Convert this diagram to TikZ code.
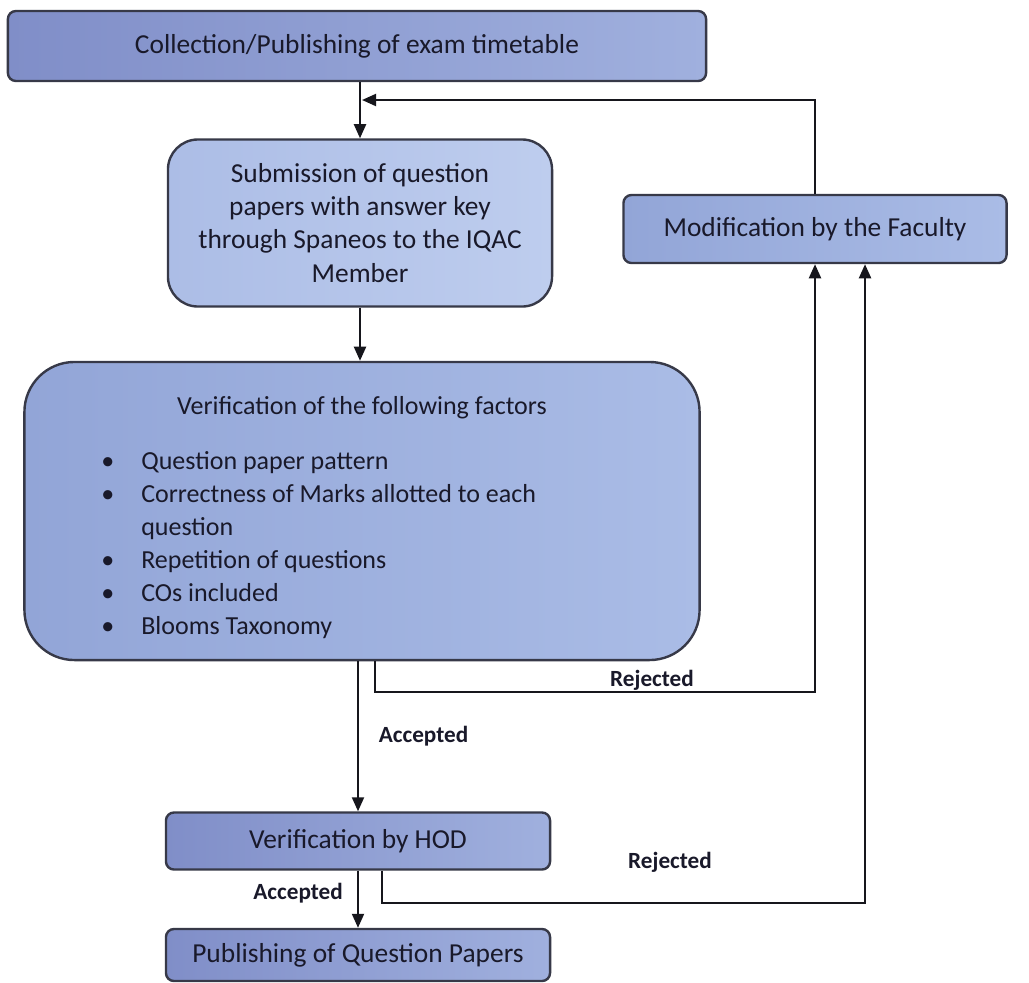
\documentclass[tikz,border=0pt]{standalone}
\usepackage{fontspec}
\setmainfont{Carlito}
\usetikzlibrary{arrows.meta}
\definecolor{boxL}{RGB}{128,142,200}
\definecolor{boxR}{RGB}{160,176,222}
\definecolor{subL}{RGB}{172,189,230}
\definecolor{subR}{RGB}{190,205,238}
\definecolor{verL}{RGB}{146,165,215}
\definecolor{verR}{RGB}{170,188,230}
\definecolor{boxline}{RGB}{55,57,72}
\definecolor{txt}{RGB}{25,25,42}
\definecolor{lineclr}{RGB}{22,22,28}
\begin{document}
\begin{tikzpicture}[x=0.025cm,y=-0.025cm,
  box/.style={draw=boxline, line width=1.7pt, left color=boxL, right color=boxR, rounded corners=0.2cm,
    text=txt, font=\fontsize{19.5}{23.5}\selectfont, align=center, inner sep=0pt},
  arr/.style={draw=lineclr, line width=1.6pt, -{Triangle[length=10pt,width=8.5pt]}},
  lbl/.style={text=txt, font=\bfseries\fontsize{16.5}{18}\selectfont, inner sep=0pt},
  body/.style={text=txt, font=\fontsize{18.5}{23.5}\selectfont, inner sep=0pt}]
\useasboundingbox (0,0) rectangle (1029,982);
\fill[white] (0,0) rectangle (1029,982);

\node[box, minimum width=17.45cm, minimum height=1.75cm] (top) at (357,46)
  {Collection/Publishing of exam timetable};
\node[box, left color=subL, right color=subR, rounded corners=0.75cm, minimum width=9.6cm, minimum height=4.175cm] (sub) at (360,223)
  {Submission of question\\papers with answer key\\through Spaneos to the IQAC\\Member};
\node[box, left color=verL, right color=verR, rounded corners=1.25cm, minimum width=16.875cm, minimum height=7.45cm] (ver) at (362,511) {};
\node[body] (vtitle) at (362,408)
  {Verification of the following factors};
\node[body, align=left, anchor=north west] (vlist) at (101,451)
  {\makebox[1cm][l]{\textbullet}Question paper pattern\\
   \makebox[1cm][l]{\textbullet}Correctness of Marks allotted to each\\
   \makebox[1cm][l]{}question\\
   \makebox[1cm][l]{\textbullet}Repetition of questions\\
   \makebox[1cm][l]{\textbullet}COs included\\
   \makebox[1cm][l]{\textbullet}Blooms Taxonomy};
\node[box, left color=verL, right color=verR, minimum width=9.575cm, minimum height=1.7cm] (mod) at (815,229)
  {Modification by the Faculty};
\node[box, minimum width=9.6cm, minimum height=1.425cm] (hod) at (358,841)
  {Verification by HOD};
\node[box, minimum width=9.6cm, minimum height=1.3cm] (pub) at (358,955)
  {Publishing of Question Papers};

% main flow
\draw[arr] (top.south -| sub.north) -- (sub.north);
\coordinate (fb) at (362,100);
\draw[arr] (mod.north) |- (fb);
\draw[arr] (sub.south) -- (sub.south |- ver.north);
\draw[arr] (hod.north |- ver.south) -- node[lbl, right=14pt, pos=0.5] (acc1) {Accepted} (hod.north);
\draw[arr] (hod.south) -- node[lbl, left=10pt, pos=0.4] (acc2) {Accepted} (pub.north);

% rejected loops
\coordinate (r1) at (375,692);
\draw[arr] (r1 |- ver.south) -- (r1) -| (mod.south);
\node[lbl] (rej1) at (652,680) {Rejected};
\coordinate (r2) at (382,903);
\draw[arr] (r2 |- hod.south) -- (r2) -| ([xshift=1.25cm]mod.south);
\node[lbl] (rej2) at (670,862) {Rejected};
\end{tikzpicture}
\end{document}
